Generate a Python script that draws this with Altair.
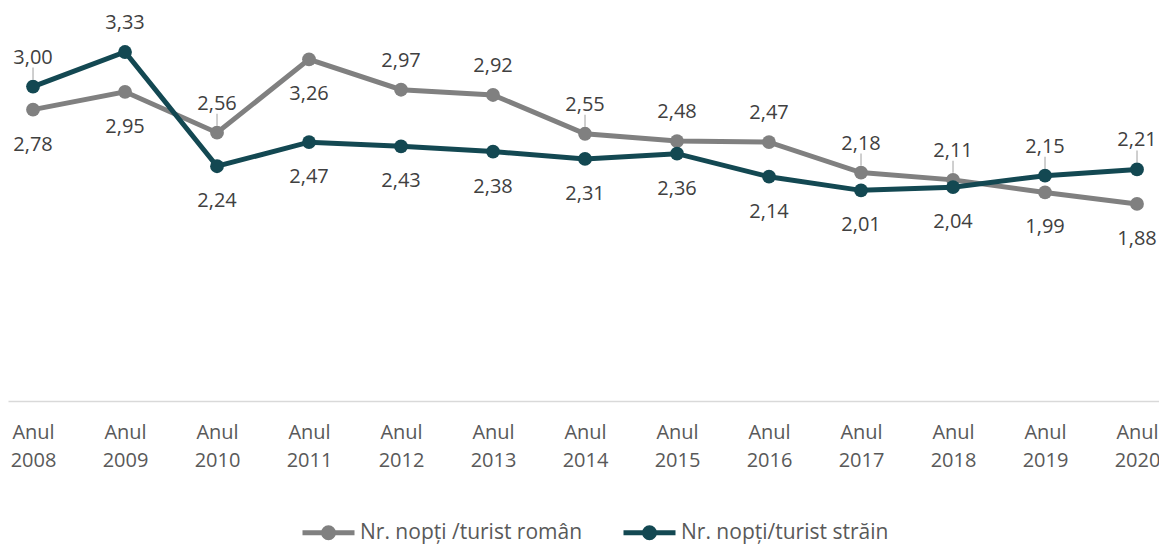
import altair as alt
import pandas as pd

years = [2008, 2009, 2010, 2011, 2012, 2013, 2014, 2015, 2016, 2017, 2018, 2019, 2020]
series_names = ["Nr. nopți /turist român", "Nr. nopți/turist străin"]
ro_values = [2.78, 2.95, 2.56, 3.26, 2.97, 2.92, 2.55, 2.48, 2.47, 2.18, 2.11, 1.99, 1.88]
st_values = [3.00, 3.33, 2.24, 2.47, 2.43, 2.38, 2.31, 2.36, 2.14, 2.01, 2.04, 2.15, 2.21]
ro_label_pos = ["below", "below", "above", "below", "above", "above", "above",
                "above", "above", "above", "above", "below", "below"]
st_label_pos = ["above", "above", "below", "below", "below", "below", "below",
                "below", "below", "below", "below", "above", "above"]
ro_leader = [0, 0, 1, 0, 0, 0, 1, 0, 0, 1, 1, 0, 0]
st_leader = [1, 0, 0, 0, 0, 0, 0, 0, 0, 0, 0, 1, 1]
colors = ["#808080", "#134852"]

rows = []
for name, vals, pos, lead in [(series_names[0], ro_values, ro_label_pos, ro_leader),
                              (series_names[1], st_values, st_label_pos, st_leader)]:
    for y, v, p, l in zip(years, vals, pos, lead):
        rows.append({"year": y, "value": v, "series": name, "pos": p, "leader": l})
df = pd.DataFrame(rows)

FONT = "Open Sans"

x_enc = alt.X("year:Q",
              scale=alt.Scale(domain=[2007.728, 2020.239], nice=False, zero=False),
              axis=alt.Axis(values=years, title=None, ticks=False, grid=False,
                            labelExpr="['Anul', '' + datum.value]",
                            labelFont=FONT, labelFontSize=20, labelColor="#595959",
                            labelLineHeight=28, labelPadding=21,
                            domainColor="#d9d9d9", domainWidth=1.5,
                            labelFlush=False, labelOverlap=False))
y_enc = alt.Y("value:Q", scale=alt.Scale(domain=[0, 3.75], nice=False), axis=None)
color_enc = alt.Color("series:N",
                      scale=alt.Scale(domain=series_names, range=colors),
                      legend=alt.Legend(title=None, orient="none", legendX=292, legendY=496,
                                        direction="horizontal",
                                        symbolType="M -1 0 L 1 0 M 0.19 0 A 0.19 0.19 0 1 1 -0.19 0 A 0.19 0.19 0 1 1 0.19 0",
                                        symbolSize=2704, symbolStrokeWidth=5,
                                        labelFont=FONT, labelFontSize=21, labelColor="#595959",
                                        labelLimit=500, labelOffset=3, columnPadding=30))

base = alt.Chart(df).encode(x=x_enc, y=y_enc)

lines = base.mark_line(strokeWidth=5).encode(color=color_enc)
points = base.mark_point(filled=True, opacity=1, size=190, shape="circle").encode(color=color_enc)

leaders = base.transform_filter("datum.leader == 1").mark_rule(
    color="#bfbfbf", strokeWidth=1.5, yOffset=-7, y2Offset=-19).encode(y2="value:Q")

fmt = "replace(format(datum.value, '.2f'), '.', ',')"
labels_above = base.transform_filter("datum.pos == 'above'").transform_calculate(
    lbl=fmt).mark_text(font=FONT, fontSize=20, color="#404040", dy=-29, baseline="middle").encode(text="lbl:N")
labels_below = base.transform_filter("datum.pos == 'below'").transform_calculate(
    lbl=fmt).mark_text(font=FONT, fontSize=20, color="#404040", dy=35, baseline="middle").encode(text="lbl:N")

chart = alt.layer(leaders, lines, points, labels_above, labels_below).properties(
    width=1151, height=393,
    autosize=alt.AutoSizeParams(type="none"),
    padding={"left": 0, "top": 0, "right": 0, "bottom": 144},
    background="white",
).configure_view(stroke=None)

chart.save("out.html", embed_options={"renderer": "svg", "actions": False})
